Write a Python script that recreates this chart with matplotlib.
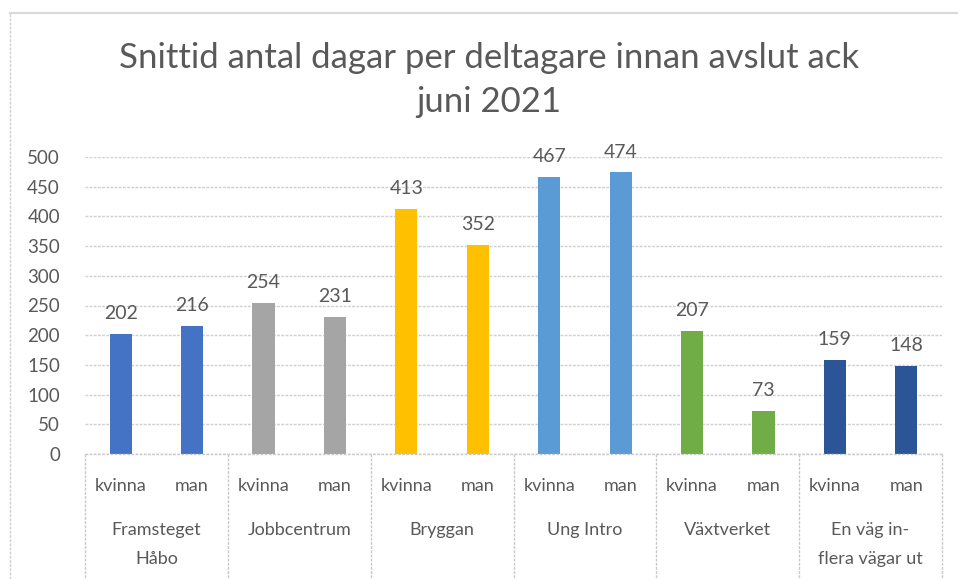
import matplotlib
matplotlib.use("Agg")
import matplotlib.pyplot as plt
from matplotlib.lines import Line2D
from matplotlib.transforms import blended_transform_factory

groups = ["Framsteget\nHåbo", "Jobbcentrum", "Bryggan", "Ung Intro", "Växtverket", "En väg in-\nflera vägar ut"]
genders = ["kvinna", "man"]
values = [202, 216, 254, 231, 413, 352, 467, 474, 207, 73, 159, 148]
group_colors = ["#4472C4", "#A5A5A5", "#FFC000", "#5B9BD5", "#70AD47", "#2B5597"]
yticks = [0, 50, 100, 150, 200, 250, 300, 350, 400, 450, 500]
title = "Snittid antal dagar per deltagare innan avslut ack\njuni 2021"

plt.rcParams['font.family'] = ['Lato', 'DejaVu Sans']
txt = "#595959"

fig = plt.figure(figsize=(9.58, 5.79), dpi=100)
ax = fig.add_axes([85/958, 125/579, 857/958, 297/579])

xs = list(range(len(values)))
colors = [group_colors[i // 2] for i in xs]
ax.bar(xs, values, width=0.31, color=colors, zorder=3)
for x, v in zip(xs, values):
    ax.text(x, v + 20, str(v), ha='center', va='bottom', fontsize=14, color=txt, clip_on=False)

ax.set_xlim(-0.5, len(values) - 0.5)
ax.set_ylim(0, 500)
ax.set_yticks(yticks)
ax.set_yticklabels([str(t) for t in yticks], fontsize=13.5, color=txt)
ax.tick_params(axis='y', length=0, pad=18)
ax.tick_params(axis='x', length=0, labelbottom=False)
ax.grid(axis='y', color='#D0D0D0', linewidth=1, linestyle=(0, (2, 1)), zorder=0)
for s in ax.spines.values():
    s.set_visible(False)

tr = blended_transform_factory(ax.transData, ax.transAxes)
ax.plot([-0.5, len(values) - 0.5], [0, 0], transform=tr, color='#C8C8C8', lw=1, linestyle=(0, (2, 1)), clip_on=False, zorder=4)
for b in range(len(groups) + 1):
    xb = -0.5 + 2 * b
    ax.plot([xb, xb], [0, -0.43], transform=tr, color='#C8C8C8', lw=1, linestyle=(0, (2, 1)), clip_on=False)
for x in xs:
    ax.text(x, -0.108, genders[x % 2], transform=tr, ha='center', va='center', fontsize=13, color=txt)
for g, name in enumerate(groups):
    ax.text(2 * g + 0.5, -0.228, name, transform=tr, ha='center', va='top', fontsize=13, color=txt, linespacing=2.0)

fig.text(489/958, 1 - 80/579, title, ha='center', va='center', fontsize=25, color=txt, linespacing=1.5)

fig.add_artist(Line2D([10/958, 10/958], [0, 1 - 13/579], transform=fig.transFigure, color='#D0D0D0', lw=1, linestyle=(0, (2, 1))))
fig.add_artist(Line2D([10/958, 1], [1 - 13/579, 1 - 13/579], transform=fig.transFigure, color='#D9D9D9', lw=1.5))

fig.savefig("out.png", dpi=100, facecolor='white')
